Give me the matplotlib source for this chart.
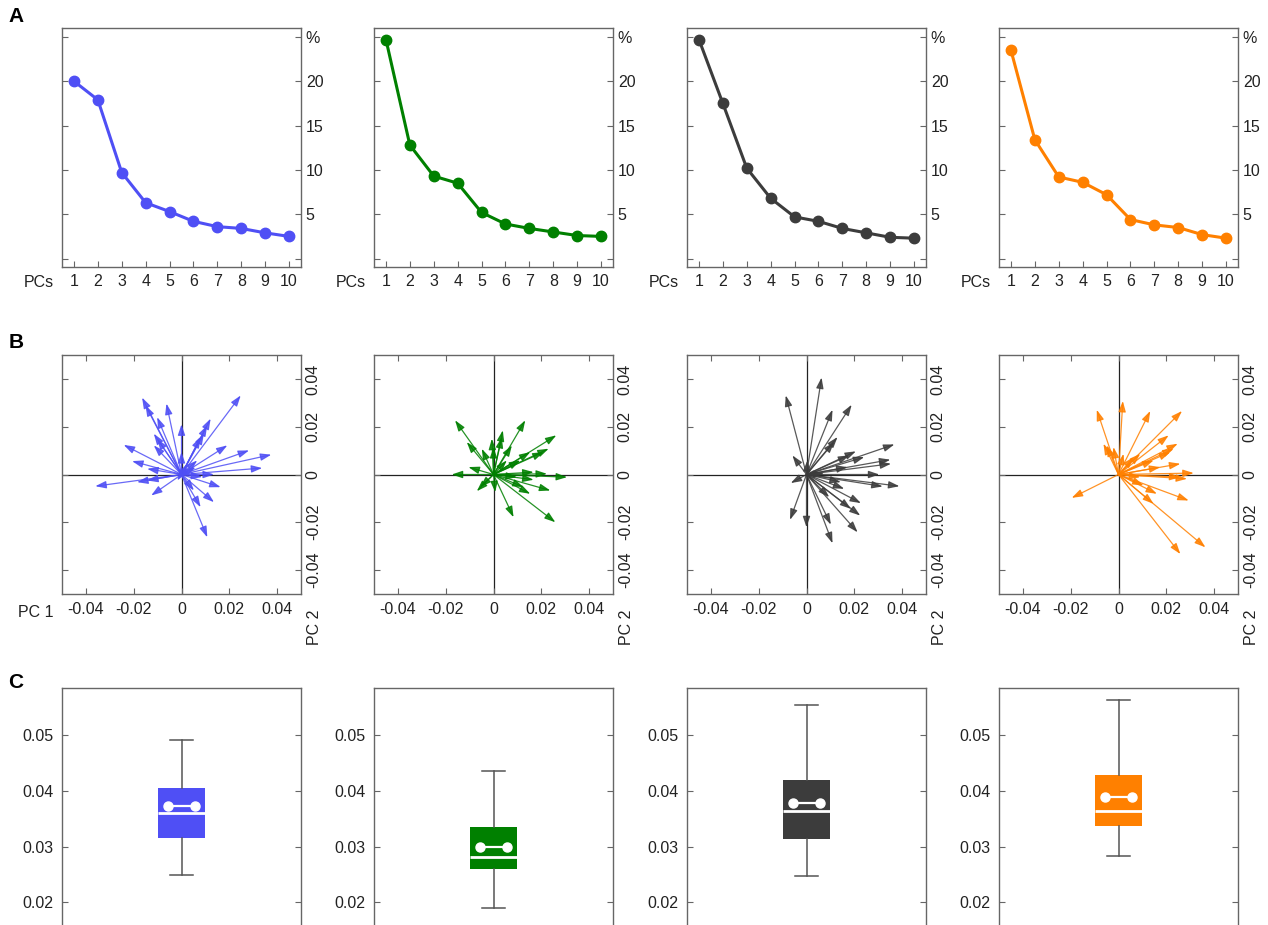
import matplotlib
matplotlib.use("Agg")
import matplotlib.pyplot as plt

plt.rcParams['font.family'] = ['Liberation Sans', 'DejaVu Sans']
plt.rcParams['font.size'] = 11.5

colors = ['#4f4ff5', '#008000', '#3c3c3c', '#ff8000']

# A: explained variance of the first 10 PCs (%)
pcs = list(range(1, 11))
var_blue = [20.0, 17.9, 9.7, 6.3, 5.3, 4.2, 3.6, 3.4, 2.9, 2.5]
var_green = [24.7, 12.8, 9.3, 8.5, 5.2, 3.9, 3.4, 3.0, 2.6, 2.5]
var_black = [24.7, 17.5, 10.2, 6.8, 4.7, 4.2, 3.4, 2.9, 2.4, 2.3]
var_orange = [23.5, 13.4, 9.2, 8.6, 7.2, 4.4, 3.8, 3.5, 2.7, 2.3]

# B: loadings (arrow tips) on PC 1 / PC 2
pc1_blue = [-0.0361, -0.0186, -0.0144, -0.0127, -0.0242, -0.0207, -0.0144, -0.0165, -0.0151,
            -0.0102, -0.0063, -0.0116, -0.0116, -0.0102, 0.0, 0.0, 0.0248, 0.0122, 0.0108,
            0.0094, 0.0080, 0.0192, 0.0283, 0.0376, 0.0338, 0.0136, 0.0164, 0.0136, 0.0080,
            0.0108, 0.0052, 0.0087, 0.0024, 0.0066, 0.0059, -0.0018]
pc2_blue = [-0.0049, -0.0032, -0.0025, -0.0088, 0.0124, 0.0056, 0.0024, 0.0322, 0.0290,
            0.0240, 0.0297, 0.0171, 0.0122, 0.0150, 0.0210, 0.0094, 0.0331, 0.0234, 0.0206,
            0.0171, 0.0157, 0.0122, 0.0101, 0.0083, 0.0027, 0.0, -0.0053, -0.0116, -0.0137,
            -0.0263, -0.0067, -0.0010, 0.0045, 0.0059, 0.0030, -0.0025]

pc1_green = [-0.0161, -0.0175, -0.0105, -0.0112, -0.0049, -0.0070, -0.0056, -0.0007, 0.0,
             0.0039, 0.0035, 0.0133, 0.0263, 0.0231, 0.0210, 0.0154, 0.0112, 0.0168, 0.0224,
             0.0308, 0.0238, 0.0154, 0.0126, 0.0168, 0.0259, 0.0084, 0.0007, 0.0098, 0.0056,
             0.0077]
pc2_green = [0.0227, 0.0, 0.0031, 0.0136, 0.0108, -0.0070, -0.0053, 0.0150, 0.0115,
             0.0185, 0.0157, 0.0227, 0.0164, 0.0108, 0.0094, 0.0094, 0.0059, 0.0010, 0.0003,
             -0.0011, -0.0067, -0.0081, -0.0053, -0.0022, -0.0200, -0.0179, -0.0074, -0.0011,
             0.0059, 0.0122]

pc1_black = [-0.0087, 0.0063, 0.0109, 0.0189, 0.0130, 0.0116, 0.0368, 0.0207, 0.0179,
             0.0351, 0.0354, 0.0242, 0.0305, 0.0389, 0.0319, 0.0228, 0.0225, 0.0214, 0.0109,
             0.0102, 0.0, -0.0069, -0.0066, -0.0059, 0.0186, 0.0158, 0.0095, 0.0172, 0.0004,
             0.0074, 0.0144]
pc2_black = [0.0331, 0.0406, 0.0271, 0.0292, 0.0157, 0.0136, 0.0126, 0.0097, 0.0080,
             0.0062, 0.0045, 0.0073, 0.0, -0.0049, -0.0050, -0.0120, -0.0172, -0.0242, -0.0288,
             -0.0210, -0.0221, -0.0190, -0.0036, 0.0080, -0.0144, -0.0060, -0.0095, 0.0031,
             0.0060, 0.0003, -0.0032]

pc1_orange = [-0.0091, 0.0018, 0.0133, 0.0266, 0.0210, 0.0248, 0.0231, 0.0217, 0.0259,
              0.0315, 0.0287, 0.0259, 0.0294, 0.0161, 0.0147, 0.0105, 0.0364, 0.0259, -0.0196,
              -0.0063, -0.0049, -0.0021, 0.0091, 0.0175, 0.0063, 0.0021, 0.0147, 0.0091]
pc2_orange = [0.0271, 0.0308, 0.0266, 0.0266, 0.0164, 0.0129, 0.0108, 0.0094, 0.0045,
              0.0006, -0.0018, -0.0011, -0.0109, -0.0081, -0.0123, -0.0046, -0.0305, -0.0333,
              -0.0098, 0.0129, 0.0122, 0.0115, 0.0087, 0.0031, 0.0073, 0.0087, 0.0059, -0.0011]

# C: box plot summaries
box_lo = [0.0249, 0.0190, 0.0247, 0.0283]
box_q1 = [0.0316, 0.0260, 0.0314, 0.0338]
box_med = [0.0360, 0.0282, 0.0365, 0.0365]
box_mean = [0.0374, 0.0300, 0.0379, 0.0390]
box_q3 = [0.0405, 0.0336, 0.0420, 0.0428]
box_hi = [0.0492, 0.0436, 0.0555, 0.0563]

variances = [var_blue, var_green, var_black, var_orange]
loadings = [(pc1_blue, pc2_blue), (pc1_green, pc2_green),
            (pc1_black, pc2_black), (pc1_orange, pc2_orange)]

W, H = 1268, 925
fig = plt.figure(figsize=(W / 100, H / 100), dpi=100)
lefts = [62, 374, 687, 999]
size = 239
spine_col = '#666666'
text_col = '#222222'
fs = 11.5


def add_ax(left, top):
    ax = fig.add_axes([left / W, 1 - (top + size) / H, size / W, size / H])
    for s in ax.spines.values():
        s.set_color(spine_col)
        s.set_linewidth(1.0)
    ax.tick_params(direction='in', length=4, width=0.8, color=spine_col,
                   labelcolor=text_col, labelsize=fs)
    return ax


for i in range(4):
    c = colors[i]

    # row A
    ax = add_ax(lefts[i], 28)
    ax.plot(pcs, variances[i], '-o', color=c, lw=2.2, ms=7.5)
    ax.set_xlim(0.5, 10.5)
    ax.set_ylim(-0.95, 26.0)
    ax.set_xticks(pcs)
    ax.set_yticks([0, 5, 10, 15, 20, 25])
    ax.set_yticklabels(['', '5', '10', '15', '20', '%'])
    ax.tick_params(left=True, right=True, labelleft=False, labelright=True, top=False)
    ax.tick_params(axis='x', pad=5)
    ax.text(-0.035, -0.063, 'PCs', transform=ax.transAxes, ha='right', va='center',
            fontsize=fs, color=text_col)

    # row B
    ax = add_ax(lefts[i], 355)
    ax.set_xlim(-0.05, 0.05)
    ax.set_ylim(-0.05, 0.05)
    ax.axhline(0, color='#222222', lw=0.9, zorder=1)
    ax.axvline(0, color='#222222', lw=0.9, zorder=1)
    xs, ys = loadings[i]
    for x, y in zip(xs, ys):
        ax.annotate('', xy=(x, y), xytext=(0, 0),
                    arrowprops=dict(arrowstyle='-|>,head_length=0.65,head_width=0.22',
                                    color=c, lw=0.9, alpha=0.85, shrinkA=0, shrinkB=0,
                                    mutation_scale=10))
    ticks = [-0.04, -0.02, 0, 0.02, 0.04]
    tlabels = ['-0.04', '-0.02', '0', '0.02', '0.04']
    ax.set_xticks(ticks)
    ax.set_xticklabels(tlabels)
    ax.set_yticks(ticks)
    ax.set_yticklabels(tlabels)
    ax.tick_params(left=True, right=True, top=True, bottom=True,
                   labelleft=False, labelright=True)
    ax.tick_params(axis='x', pad=6)
    for lab in ax.get_yticklabels():
        lab.set_rotation(90)
        lab.set_va('center')
    ax.text(1.058, -0.065, 'PC 2', transform=ax.transAxes, rotation=90,
            ha='center', va='top', fontsize=fs, color=text_col)
    if i == 0:
        ax.text(-0.035, -0.078, 'PC 1', transform=ax.transAxes, ha='right',
                va='center', fontsize=fs, color=text_col)

    # row C
    ax = add_ax(lefts[i], 688)
    stats = [dict(whislo=box_lo[i], q1=box_q1[i], med=box_med[i], q3=box_q3[i],
                  whishi=box_hi[i], mean=box_mean[i], fliers=[])]
    ax.bxp(stats, positions=[1], widths=0.4, capwidths=0.19, patch_artist=True,
           showfliers=False, showmeans=False,
           boxprops=dict(facecolor=c, edgecolor='none'),
           medianprops=dict(color='white', lw=2),
           whiskerprops=dict(color='#555555', lw=1.1),
           capprops=dict(color='#555555', lw=1.1))
    ax.plot([1 - 0.115, 1 + 0.115], [box_mean[i], box_mean[i]], '-o', color='white',
            lw=1.6, ms=6.5, zorder=5)
    ax.set_xlim(0, 2)
    ax.set_ylim(0.0156, 0.0585)
    ax.set_yticks([0.02, 0.03, 0.04, 0.05])
    ax.set_yticklabels(['0.02', '0.03', '0.04', '0.05'])
    ax.set_xticks([])
    ax.tick_params(left=True, right=True, labelleft=True, labelright=False, pad=6)

fig.text(16 / W, 1 - 17 / H, 'A', fontsize=15, fontweight='bold', ha='center', va='center')
fig.text(16 / W, 1 - 343 / H, 'B', fontsize=15, fontweight='bold', ha='center', va='center')
fig.text(16 / W, 1 - 682 / H, 'C', fontsize=15, fontweight='bold', ha='center', va='center')

fig.savefig('out.png', dpi=100)
